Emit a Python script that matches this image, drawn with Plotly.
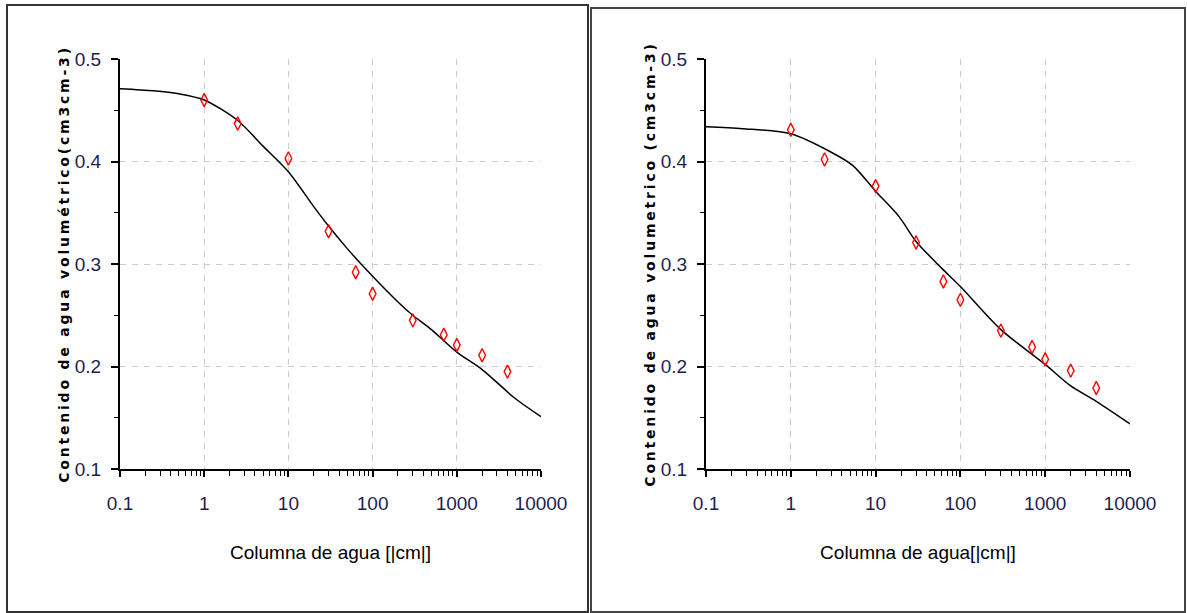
import plotly.graph_objects as go

# ---- data ----
h_obs = [1, 2.5, 10, 30, 63, 100, 300, 700, 1000, 2000, 4000]
theta_obs_left = [0.460, 0.437, 0.403, 0.332, 0.292, 0.271, 0.245, 0.231, 0.221, 0.211, 0.195]
theta_obs_right = [0.431, 0.402, 0.376, 0.321, 0.283, 0.265, 0.235, 0.219, 0.207, 0.196, 0.179]

h_fit_left = [0.1, 0.25, 0.5, 1, 2.5, 5, 10, 20, 30, 50, 100, 200, 300, 500, 1000, 2000, 4900, 10000]
theta_fit_left = [0.471, 0.469, 0.466, 0.460, 0.440, 0.415, 0.390, 0.356, 0.337, 0.315, 0.288, 0.263, 0.250, 0.236, 0.214, 0.197, 0.169, 0.151]

h_fit_right = [0.1, 0.27, 1, 3, 5.4, 10, 19, 30, 60, 100, 300, 1000, 2000, 4000, 10000]
theta_fit_right = [0.434, 0.432, 0.427, 0.409, 0.396, 0.371, 0.346, 0.322, 0.296, 0.278, 0.236, 0.202, 0.181, 0.166, 0.144]

x_tickvals = [0.1, 1, 10, 100, 1000, 10000]
x_ticktext = ["0.1", "1", "10", "100", "1000", "10000"]
x_title_left = "Columna de agua [|cm|]"
x_title_right = "Columna de agua[|cm|]"
y_title_left = "Contenido de agua volumétrico(cm3cm-3)"
y_title_right = "Contenido de agua volumetrico (cm3cm-3)"

W, H = 1187, 613
NARROW = "Liberation Sans Narrow, Arial Narrow, Liberation Sans, Arial, sans-serif"
TICKCOL = "#1e1e4e"
GRIDCOL = "#cccccc"

minor_vals = [m * 10 ** e for e in range(-1, 4) for m in range(2, 10)]

fig = go.Figure()

for xa, ya, hf, tf, to in [("x", "y", h_fit_left, theta_fit_left, theta_obs_left),
                           ("x2", "y2", h_fit_right, theta_fit_right, theta_obs_right)]:
    fig.add_trace(go.Scatter(x=hf, y=tf, mode="lines", xaxis=xa, yaxis=ya,
                             line=dict(color="black", width=1.5, shape="spline", smoothing=0.8),
                             showlegend=False, hoverinfo="skip"))
    fig.add_trace(go.Scatter(x=h_obs, y=to, mode="markers", xaxis=xa, yaxis=ya,
                             marker=dict(symbol="diamond-tall-open", size=9.5, color="red",
                                         line=dict(color="red", width=1.4)),
                             showlegend=False))

dom_left = [120 / W, 541 / W]
dom_right = [706 / W, 1130 / W]
dom_y = [1 - 469 / H, 1 - 59 / H]


def xaxis_cfg(domain, anchor, title):
    return dict(type="log", range=[-1, 4], domain=domain, anchor=anchor, automargin=False,
                tickmode="array", tickvals=x_tickvals, ticktext=x_ticktext,
                ticks="outside", ticklen=6, tickwidth=1.5, tickcolor="black",
                minor=dict(tickmode="array", tickvals=minor_vals, ticks="outside",
                           ticklen=5, tickwidth=1.2, tickcolor="black", showgrid=False),
                showline=True, linecolor="black", linewidth=2,
                showgrid=True, gridcolor=GRIDCOL, gridwidth=1, griddash="6px,6px",
                zeroline=False,
                tickfont=dict(family=NARROW, size=19, color=TICKCOL),
                ticklabelstandoff=10,
                title=dict(text=title, font=dict(family=NARROW, size=19, color="black"),
                           standoff=33))


def xaxis_in(domain, anchor, over):
    return dict(type="log", range=[-1, 4], domain=domain, anchor=anchor, overlaying=over,
                automargin=False,
                tickmode="array", tickvals=x_tickvals, showticklabels=False,
                ticks="inside", ticklen=6, tickwidth=1.5, tickcolor="black",
                minor=dict(tickmode="array", tickvals=minor_vals, ticks="inside",
                           ticklen=5, tickwidth=1.2, tickcolor="black", showgrid=False),
                showline=False, showgrid=False, zeroline=False)


def yaxis_cfg(domain, anchor, title):
    return dict(range=[0.1, 0.5], domain=domain, anchor=anchor, automargin=False,
                tickmode="linear", tick0=0.1, dtick=0.1, tickformat=".1f",
                ticks="outside", ticklen=7, tickwidth=1.5, tickcolor="black",
                minor=dict(dtick=0.05, ticks="outside", ticklen=4, tickwidth=1.2,
                           tickcolor="black", showgrid=False),
                showline=True, linecolor="black", linewidth=2,
                showgrid=True, gridcolor=GRIDCOL, gridwidth=1, griddash="6px,6px",
                zeroline=False,
                tickfont=dict(family=NARROW, size=19, color=TICKCOL),
                ticklabelstandoff=6,
                title=dict(text='<span style="letter-spacing:2.8px">' + title + '</span>',
                           font=dict(family="DejaVu Sans", size=14, color="black", weight="bold"),
                           standoff=2))


fig.update_layout(
    width=W, height=H, autosize=False,
    margin=dict(l=0, r=0, t=0, b=0, pad=0),
    paper_bgcolor="white", plot_bgcolor="white",
    xaxis=xaxis_cfg(dom_left, "y", x_title_left),
    yaxis=yaxis_cfg(dom_y, "x", y_title_left),
    xaxis2=xaxis_cfg(dom_right, "y2", x_title_right),
    yaxis2=yaxis_cfg(dom_y, "x2", y_title_right),
    xaxis3=xaxis_in(dom_left, "y", "x"),
    xaxis4=xaxis_in(dom_right, "y2", "x2"),
    shapes=[
        dict(type="rect", xref="paper", yref="paper",
             x0=7 / W, x1=588 / W, y0=1 / H, y1=1 - 5 / H,
             line=dict(color="#333333", width=2), fillcolor="rgba(0,0,0,0)", layer="below"),
        dict(type="rect", xref="paper", yref="paper",
             x0=591 / W, x1=1185 / W, y0=1 / H, y1=1 - 8 / H,
             line=dict(color="#444444", width=2), fillcolor="rgba(0,0,0,0)", layer="below"),
    ],
)

fig.write_html("out.html", config={"displayModeBar": False},
               post_script="document.body.style.margin='0';document.body.style.overflow='hidden';")
